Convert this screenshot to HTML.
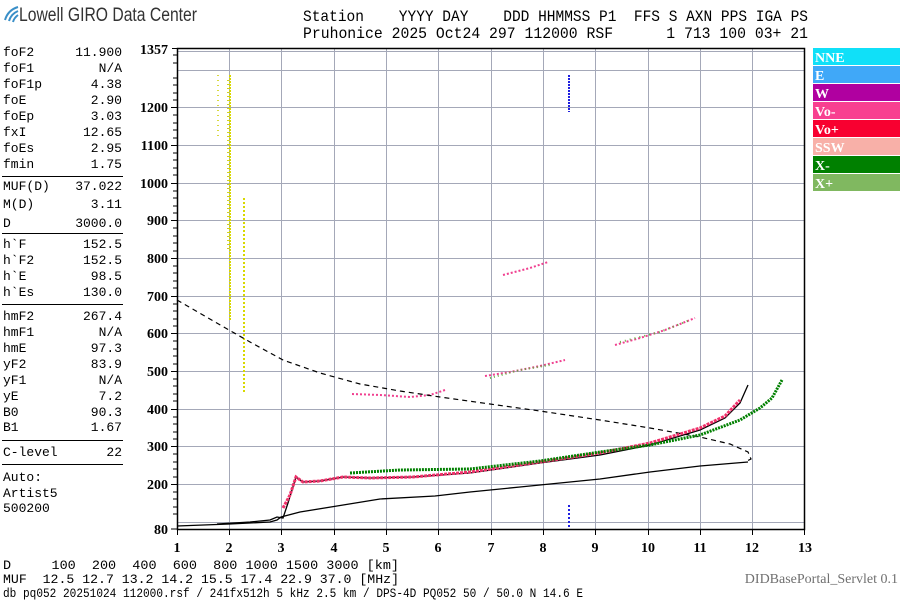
<!DOCTYPE html>
<html><head><meta charset="utf-8"><style>
html,body{margin:0;padding:0;background:#fff;}
svg{display:block;}
.m{font-family:"Liberation Mono","DejaVu Sans Mono",monospace;font-size:13px;fill:#000;}
.h{font-family:"Liberation Mono",monospace;font-size:16px;fill:#000;}
.ax{font-family:"Liberation Serif",serif;font-size:14px;font-weight:bold;fill:#000;}
.lg{font-family:"Liberation Serif",serif;font-size:14px;font-weight:bold;fill:#fff;}
</style></head><body>
<svg width="900" height="600" viewBox="0 0 900 600" xmlns="http://www.w3.org/2000/svg">
<path d="M5 20 Q8 10 18 7" stroke="#3a8fc8" stroke-width="2" fill="none"/>
<path d="M9 21 Q11 14 18 11" stroke="#3a8fc8" stroke-width="2" fill="none"/>
<path d="M13 22 Q14 18 18 15" stroke="#3a8fc8" stroke-width="2" fill="none"/>
<text x="19" y="21" font-family="Liberation Sans,sans-serif" font-size="19" fill="#333" textLength="178" lengthAdjust="spacingAndGlyphs">Lowell GIRO Data Center</text>
<text x="303" y="21" class="h" textLength="505" lengthAdjust="spacingAndGlyphs" xml:space="preserve">Station    YYYY DAY    DDD HHMMSS P1  FFS S AXN PPS IGA PS</text>
<text x="303" y="38" class="h" textLength="505" lengthAdjust="spacingAndGlyphs" xml:space="preserve">Pruhonice 2025 Oct24 297 112000 RSF      1 713 100 03+ 21</text>

<g class="m">
<text x="3" y="56">foF2</text><text x="122" y="56" text-anchor="end">11.900</text>
<text x="3" y="72">foF1</text><text x="122" y="72" text-anchor="end">N/A</text>
<text x="3" y="88">foF1p</text><text x="122" y="88" text-anchor="end">4.38</text>
<text x="3" y="104">foE</text><text x="122" y="104" text-anchor="end">2.90</text>
<text x="3" y="120">foEp</text><text x="122" y="120" text-anchor="end">3.03</text>
<text x="3" y="136">fxI</text><text x="122" y="136" text-anchor="end">12.65</text>
<text x="3" y="152">foEs</text><text x="122" y="152" text-anchor="end">2.95</text>
<text x="3" y="168">fmin</text><text x="122" y="168" text-anchor="end">1.75</text>
<text x="3" y="190">MUF(D)</text><text x="122" y="190" text-anchor="end">37.022</text>
<text x="3" y="208">M(D)</text><text x="122" y="208" text-anchor="end">3.11</text>
<text x="3" y="227">D</text><text x="122" y="227" text-anchor="end">3000.0</text>
<text x="3" y="248">h`F</text><text x="122" y="248" text-anchor="end">152.5</text>
<text x="3" y="264">h`F2</text><text x="122" y="264" text-anchor="end">152.5</text>
<text x="3" y="280">h`E</text><text x="122" y="280" text-anchor="end">98.5</text>
<text x="3" y="296">h`Es</text><text x="122" y="296" text-anchor="end">130.0</text>
<text x="3" y="320">hmF2</text><text x="122" y="320" text-anchor="end">267.4</text>
<text x="3" y="336">hmF1</text><text x="122" y="336" text-anchor="end">N/A</text>
<text x="3" y="352">hmE</text><text x="122" y="352" text-anchor="end">97.3</text>
<text x="3" y="368">yF2</text><text x="122" y="368" text-anchor="end">83.9</text>
<text x="3" y="384">yF1</text><text x="122" y="384" text-anchor="end">N/A</text>
<text x="3" y="400">yE</text><text x="122" y="400" text-anchor="end">7.2</text>
<text x="3" y="416">B0</text><text x="122" y="416" text-anchor="end">90.3</text>
<text x="3" y="431">B1</text><text x="122" y="431" text-anchor="end">1.67</text>
<text x="3" y="456">C-level</text><text x="122" y="456" text-anchor="end">22</text>
<text x="3" y="481">Auto:</text>
<text x="3" y="497">Artist5</text>
<text x="3" y="512">500200</text>
</g>
<g stroke="#000" stroke-width="1">
<line x1="2" y1="176.5" x2="123" y2="176.5"/><line x1="2" y1="233.5" x2="123" y2="233.5"/>
<line x1="2" y1="304.5" x2="123" y2="304.5"/><line x1="2" y1="440.5" x2="123" y2="440.5"/>
<line x1="2" y1="464.5" x2="123" y2="464.5"/>
</g>

<g stroke="#a4a8b8" stroke-width="1">
<line x1="177" y1="522.5" x2="805" y2="522.5"/>
<line x1="177" y1="484.5" x2="805" y2="484.5"/>
<line x1="177" y1="446.5" x2="805" y2="446.5"/>
<line x1="177" y1="409.5" x2="805" y2="409.5"/>
<line x1="177" y1="371.5" x2="805" y2="371.5"/>
<line x1="177" y1="333.5" x2="805" y2="333.5"/>
<line x1="177" y1="296.5" x2="805" y2="296.5"/>
<line x1="177" y1="258.5" x2="805" y2="258.5"/>
<line x1="177" y1="220.5" x2="805" y2="220.5"/>
<line x1="177" y1="183.5" x2="805" y2="183.5"/>
<line x1="177" y1="145.5" x2="805" y2="145.5"/>
<line x1="177" y1="107.5" x2="805" y2="107.5"/>
<line x1="177" y1="70.5" x2="805" y2="70.5"/>
<line x1="177" y1="51.5" x2="805" y2="51.5"/>
<line x1="229.5" y1="48" x2="229.5" y2="529"/><line x1="281.5" y1="48" x2="281.5" y2="529"/>
<line x1="334.5" y1="48" x2="334.5" y2="529"/><line x1="386.5" y1="48" x2="386.5" y2="529"/>
<line x1="438.5" y1="48" x2="438.5" y2="529"/><line x1="491.5" y1="48" x2="491.5" y2="529"/>
<line x1="543.5" y1="48" x2="543.5" y2="529"/><line x1="595.5" y1="48" x2="595.5" y2="529"/>
<line x1="648.5" y1="48" x2="648.5" y2="529"/><line x1="700.5" y1="48" x2="700.5" y2="529"/>
<line x1="752.5" y1="48" x2="752.5" y2="529"/>
</g>
<rect x="177.5" y="48.5" width="627" height="481" fill="none" stroke="#000" stroke-width="1.5"/>
<path stroke="#000" stroke-width="1" fill="none" d="M172 48.5 H177 M173 55 H177 M173 63 H177 M173 78 H177 M173 85 H177 M173 93 H177 M173 100 H177 M173 115 H177 M173 123 H177 M173 130 H177 M173 138 H177 M173 153 H177 M173 160 H177 M173 168 H177 M173 175 H177 M173 191 H177 M173 198 H177 M173 206 H177 M173 213 H177 M173 228 H177 M173 236 H177 M173 243 H177 M173 251 H177 M173 266 H177 M173 273 H177 M173 281 H177 M173 288 H177 M173 304 H177 M173 311 H177 M173 319 H177 M173 326 H177 M173 341 H177 M173 349 H177 M173 356 H177 M173 364 H177 M173 379 H177 M173 386 H177 M173 394 H177 M173 401 H177 M173 417 H177 M173 424 H177 M173 432 H177 M173 439 H177 M173 454 H177 M173 462 H177 M173 469 H177 M173 477 H177 M173 492 H177 M173 499 H177 M173 507 H177 M173 514 H177 M171 529 H177
M171 107.5 H177 M171 145.5 H177 M171 183.5 H177 M171 220.5 H177 M171 258.5 H177 M171 296.5 H177 M171 333.5 H177 M171 371.5 H177 M171 409.5 H177 M171 446.5 H177 M171 484.5 H177
M177.5 529 V535 M229.5 529 V535 M281.5 529 V535 M334.5 529 V535 M386.5 529 V535 M438.5 529 V535 M491.5 529 V535 M543.5 529 V535 M595.5 529 V535 M648.5 529 V535 M700.5 529 V535 M752.5 529 V535 M804.5 529 V535"/>
<g class="ax" text-anchor="end">
<text x="168" y="54">1357</text><text x="168" y="112">1200</text><text x="168" y="150">1100</text>
<text x="168" y="188">1000</text><text x="168" y="225">900</text><text x="168" y="263">800</text>
<text x="168" y="301">700</text><text x="168" y="338">600</text><text x="168" y="376">500</text>
<text x="168" y="414">400</text><text x="168" y="451">300</text><text x="168" y="489">200</text>
<text x="168" y="534">80</text>
</g>
<g class="ax" text-anchor="middle">
<text x="177" y="552">1</text><text x="229" y="552">2</text><text x="281" y="552">3</text><text x="334" y="552">4</text>
<text x="386" y="552">5</text><text x="438" y="552">6</text><text x="491" y="552">7</text><text x="543" y="552">8</text>
<text x="595" y="552">9</text><text x="648" y="552">10</text><text x="700" y="552">11</text><text x="752" y="552">12</text><text x="805" y="552">13</text>
</g>

<g stroke-width="2" fill="none">
<line x1="230" y1="75" x2="230" y2="320" stroke="#d8d800" stroke-dasharray="2 1"/>
<line x1="228" y1="80" x2="228" y2="250" stroke="#d0d020" stroke-dasharray="1 3"/>
<line x1="244" y1="198" x2="244" y2="392" stroke="#d8d800" stroke-dasharray="2 2"/>
<line x1="218" y1="75" x2="218" y2="140" stroke="#d8d840" stroke-dasharray="1 4"/>
<line x1="569" y1="75" x2="569" y2="112" stroke="#2020e0" stroke-dasharray="2 1"/>
<line x1="569" y1="505" x2="569" y2="528" stroke="#2020e0" stroke-dasharray="2 2"/>
</g>
<g stroke-width="2" fill="none" stroke-dasharray="2 2">
<path d="M352 394 L380 395 L410 397 L430 395 L445 390" stroke="#f04090"/>
<path d="M485 376 L510 372 L540 366 L565 360" stroke="#f04090"/>
<path d="M490 378 L520 370 L550 365" stroke="#60b040" stroke-dasharray="1 3"/>
<path d="M615 345 L640 338 L665 330 L695 318" stroke="#f04090"/>
<path d="M620 342 L660 332 L690 320" stroke="#60b040" stroke-dasharray="1 4"/>
<path d="M503 275 L530 268 L548 262" stroke="#f04090"/>
</g>
<polyline fill="none" stroke="#000" stroke-width="1.3" points="177,526 230,524 270,522 277,520 281,517 300,512 337,506 380,499 435,496 470,492 520,487 600,479 650,472 700,466 748,462"/>
<polyline fill="none" stroke="#000" stroke-width="1.3" points="217,524 250,522 270,520 277,517 283,518 288,503 296,477 303,482 320,481 343,477 370,478 413,477 470,473 540,463 600,455 650,445 700,430 725,418 740,403 748,385"/>
<polyline fill="none" stroke="#000" stroke-width="1.2" stroke-dasharray="5 4" points="177,300 215,322 250,342 283,360 320,373 360,384 400,391 440,397 490,404 540,411 600,420 650,428 700,437 730,444 748,452 751,459 745,462"/>
<polyline fill="none" stroke="#f0306a" stroke-width="3" stroke-dasharray="3 1" points="283,508 290,495 296,477 303,482 320,481 343,477 370,478 413,477 470,472 540,462 600,453 650,443 700,428 725,416 740,400"/>
<polyline fill="none" stroke="#008000" stroke-width="3" stroke-dasharray="2 1" points="350,473 400,470 470,469 540,461 600,452 650,445 700,435 740,420 760,408 772,398 782,380"/>
<rect x="813" y="48" width="87" height="17" fill="#10e0f8"/><text x="815" y="62" class="lg">NNE</text>
<rect x="813" y="66" width="87" height="17" fill="#40a8f8"/><text x="815" y="80" class="lg">E</text>
<rect x="813" y="84" width="87" height="17" fill="#b000a0"/><text x="815" y="98" class="lg">W</text>
<rect x="813" y="102" width="87" height="17" fill="#f84090"/><text x="815" y="116" class="lg">Vo-</text>
<rect x="813" y="120" width="87" height="17" fill="#f80030"/><text x="815" y="134" class="lg">Vo+</text>
<rect x="813" y="138" width="87" height="17" fill="#f8b0a8"/><text x="815" y="152" class="lg">SSW</text>
<rect x="813" y="156" width="87" height="17" fill="#008000"/><text x="815" y="170" class="lg">X-</text>
<rect x="813" y="174" width="87" height="17" fill="#80b860"/><text x="815" y="188" class="lg">X+</text>
<text x="3" y="569" class="m" xml:space="preserve" textLength="396" lengthAdjust="spacingAndGlyphs">D     100  200  400  600  800 1000 1500 3000 [km]</text>
<text x="3" y="583" class="m" xml:space="preserve" textLength="396" lengthAdjust="spacingAndGlyphs">MUF  12.5 12.7 13.2 14.2 15.5 17.4 22.9 37.0 [MHz]</text>
<text x="898" y="583" font-family="Liberation Serif,serif" font-size="14" fill="#707070" text-anchor="end">DIDBasePortal_Servlet 0.1</text>
<text x="3" y="597" class="m" font-size="12" xml:space="preserve" textLength="580" lengthAdjust="spacingAndGlyphs">db pq052 20251024 112000.rsf / 241fx512h 5 kHz 2.5 km / DPS-4D PQ052 50 / 50.0 N 14.6 E</text>
</svg>
</body></html>
